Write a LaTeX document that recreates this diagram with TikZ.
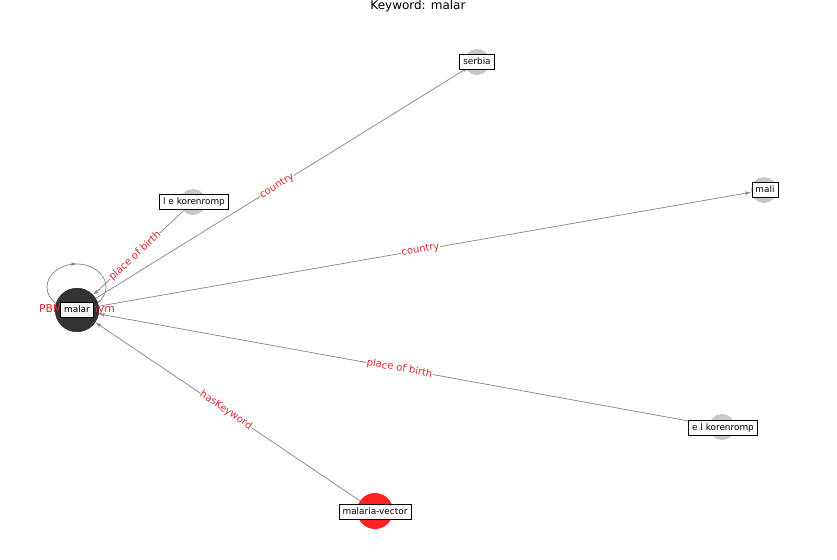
\documentclass[tikz,border=0pt]{standalone}
\usepackage{fontspec}
\setmainfont{DejaVu Sans}
\usetikzlibrary{arrows.meta}
\definecolor{edgegray}{HTML}{8A8A8A}
\definecolor{lblred}{HTML}{E0282C}
\definecolor{nodegray}{HTML}{C8C8C8}
\definecolor{nodedark}{HTML}{333333}
\definecolor{nodered}{HTML}{FF2222}
\begin{document}
\begin{tikzpicture}[x=1pt,y=-1pt,
  vtx/.style={circle, draw=none, inner sep=0pt, fill=nodegray, minimum size=26pt},
  lbox/.style={draw=black, line width=0.7pt, fill=white, font=\fontsize{8.9}{10}\selectfont,
     inner xsep=3.5pt, inner ysep=3pt, text height=6.7pt, text depth=1.9pt},
  elabel/.style={text=lblred, fill=white, inner sep=0.5pt, font=\fontsize{10}{11}\selectfont},
  edge/.style={draw=edgegray, line width=0.75pt, -{Latex[length=5.5pt,width=3.8pt]}},
  edgeline/.style={draw=edgegray, line width=0.75pt}
]
\useasboundingbox (0,0) rectangle (837,559);
% title
\node[font=\fontsize{12}{14}\selectfont] (title) at (418,6) {Keyword: malar};
% vertices
\node[vtx, fill=nodedark, minimum size=44pt] (malar) at (77,310) {};
\node[vtx] (serbia) at (477,62) {};
\node[vtx] (lek) at (193,202) {};
\node[vtx] (mali) at (764,190) {};
\node[vtx] (elk) at (722,427) {};
\node[vtx, fill=nodered, minimum size=36pt] (mv) at (375,511) {};
% self loop
\coordinate (loopc) at (76.5,287);
\coordinate (looptop) at (77,264);
\draw[edgeline] (loopc) ellipse [x radius=29.5pt, y radius=23pt];
\draw[edge] ([xshift=-4pt]looptop) -- (looptop);
\node[vtx, fill=nodedark, minimum size=44pt] (malarTop) at (malar) {};
% edges
\draw[edge, shorten >=-3pt] (malar) -- (serbia);
\draw[edge] (lek) -- (malar);
\draw[edge] (malar) -- (mali);
\draw[edge] (elk) -- (malar);
\draw[edge] (mv) -- (malar);
% edge labels
\path (malar.center) -- node[elabel, sloped] (l1) {country} (serbia.center);
\path (malar.center) -- node[elabel, sloped] (l2) {place of birth} (lek.center);
\path (malar.center) -- node[elabel, sloped] (l3) {country} (mali.center);
\path (malar.center) -- node[elabel, sloped] (l4) {place of birth} (elk.center);
\path (malar.center) -- node[elabel, sloped] (l5) {hasKeyword} (mv.center);
\node[text=lblred, font=\fontsize{10.8}{12}\selectfont, inner sep=0pt] (l6) at (77,310) {PBM synonym};
% vertex labels
\node[lbox, fill=gray!8] (malarL) at (77,310) {malar};
\node[lbox] (serbiaL) at (477,62) {serbia};
\node[lbox] (lekL) at (194,202) {l e korenromp};
\node[lbox] (maliL) at (765,190) {mali};
\node[lbox] (elkL) at (723,428) {e l korenromp};
\node[lbox] (mvL) at (375,512) {malaria-vector};
\end{tikzpicture}
\end{document}
